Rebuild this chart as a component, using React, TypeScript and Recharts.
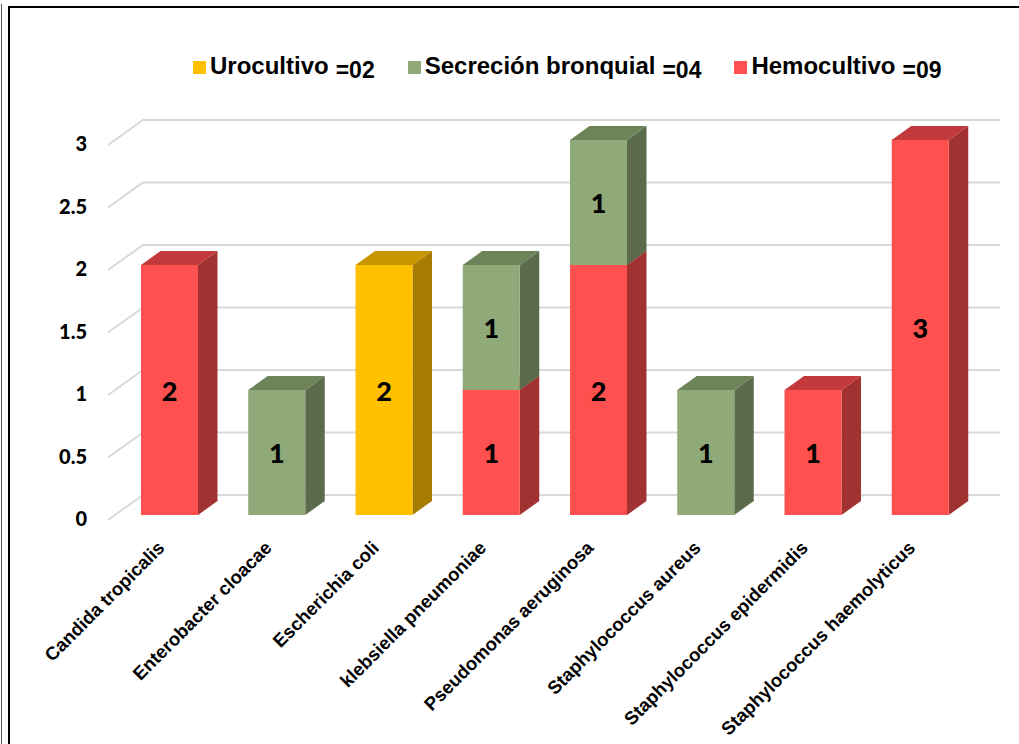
import React from 'react';
import { BarChart, Bar, XAxis, YAxis, CartesianGrid, Legend, LabelList } from 'recharts';

const categories = [
  'Candida tropicalis',
  'Enterobacter cloacae',
  'Escherichia coli',
  'klebsiella pneumoniae',
  'Pseudomonas aeruginosa',
  'Staphylococcus aureus',
  'Staphylococcus epidermidis',
  'Staphylococcus haemolyticus',
];
const hemocultivo = [2, 0, 0, 1, 2, 0, 1, 3];
const secrecion = [0, 1, 0, 1, 1, 1, 0, 0];
const urocultivo = [0, 0, 2, 0, 0, 0, 0, 0];
const yTicks = [0, 0.5, 1, 1.5, 2, 2.5, 3];

const seriesNames = { uro: 'Urocultivo', sec: 'Secreción bronquial', hemo: 'Hemocultivo' };
const legendOrder = [
  { key: 'uro', name: 'Urocultivo', total: '=02', color: '#FFC000' },
  { key: 'sec', name: 'Secreción bronquial', total: '=04', color: '#8FAA78' },
  { key: 'hemo', name: 'Hemocultivo', total: '=09', color: '#FF5050' },
];

const data = categories.map((name, i) => ({
  name,
  hemo: hemocultivo[i],
  sec: secrecion[i],
  uro: urocultivo[i],
}));

const DX = 19.5;
const DY = 14;

const make3D = (front: string, top: string, side: string) => (props: any) => {
  const { x, y, width, height } = props;
  if (!height || height <= 0) return <g />;
  return (
    <g>
      <path d={`M${x + width},${y} L${x + width + DX},${y - DY} L${x + width + DX},${y + height - DY} L${x + width},${y + height} Z`} fill={side} />
      <path d={`M${x},${y} L${x + DX},${y - DY} L${x + width + DX},${y - DY} L${x + width},${y} Z`} fill={top} />
      <rect x={x} y={y} width={width} height={height} fill={front} />
    </g>
  );
};

const valueLabel = (props: any) => {
  const { x, y, width, height, value } = props;
  if (!value) return null;
  return (
    <text
      x={x + width / 2}
      y={y + height / 2}
      textAnchor="middle"
      dominantBaseline="central"
      fontFamily="Lato, 'Open Sans', sans-serif"
      fontWeight={900}
      fontSize={27}
      fill="#000"
    >
      {value}
    </text>
  );
};

const gridLine = (props: any) => {
  const { x1, x2, y1 } = props;
  return (
    <path
      key={`g-${y1}`}
      d={`M${x1 - 8},${y1 + 5} L${x1 + 27},${y1 - 20} L${x2 + 26},${y1 - 20}`}
      stroke="#D9D9D9"
      strokeWidth={2}
      fill="none"
    />
  );
};

const YTick = (props: any) => {
  const { y, payload } = props;
  return (
    <text
      x={87}
      y={y + 3}
      textAnchor="end"
      dominantBaseline="central"
      fontFamily="Lato, 'Open Sans', sans-serif"
      fontWeight={900}
      fontSize={20}
      fill="#000"
    >
      {payload.value}
    </text>
  );
};

const XTick = (props: any) => {
  const { x, payload } = props;
  const tx = x - 4;
  const ty = 549;
  return (
    <text
      x={tx}
      y={ty}
      textAnchor="end"
      transform={`rotate(-45, ${tx}, ${ty})`}
      fontFamily="'Liberation Sans', Arial, sans-serif"
      fontWeight={700}
      fontSize={18.5}
      fill="#000"
    >
      {payload.value}
    </text>
  );
};

const renderLegend = () => (
  <div style={{ display: 'flex', alignItems: 'flex-start', fontFamily: "'Liberation Sans', Arial, sans-serif", fontWeight: 700, color: '#000', whiteSpace: 'nowrap' }}>
    {legendOrder.map((item, i) => (
      <div key={item.key} style={{ display: 'flex', alignItems: 'flex-start', marginLeft: i === 0 ? 0 : 33 }}>
        <div style={{ width: 13, height: 13, background: item.color, marginTop: 12, marginRight: 4 }} />
        <span style={{ fontSize: 24, lineHeight: '34px' }}>{item.name}</span>
        <span style={{ fontSize: 23, lineHeight: '34px', marginLeft: 7, position: 'relative', top: 4 }}>{item.total}</span>
      </div>
    ))}
  </div>
);

export default function App() {
  return (
    <div style={{ position: 'absolute', left: 0, top: 0, width: 1019, height: 744, background: '#fff', overflow: 'hidden' }}>
      <div style={{ position: 'absolute', left: 1, top: 4, width: 1, height: 740, background: '#555' }} />
      <div style={{ position: 'absolute', left: 8, top: 6, width: 2, height: 738, background: '#000' }} />
      <div style={{ position: 'absolute', left: 8, top: 6, width: 1011, height: 2, background: '#000' }} />
      <div style={{ position: 'absolute', left: 0, top: 0 }}>
        <BarChart
          width={1019}
          height={744}
          data={data}
          margin={{ top: 140, right: 45, bottom: 29, left: 0 }}
          barSize={57}
        >
          <CartesianGrid horizontal={gridLine} vertical={false} />
          <XAxis dataKey="name" axisLine={false} tickLine={false} interval={0} height={200} tick={<XTick />} />
          <YAxis width={116} domain={[0, 3]} ticks={yTicks} axisLine={false} tickLine={false} tick={<YTick />} />
          <Legend
            layout="horizontal"
            verticalAlign="middle"
            align="center"
            content={renderLegend}
            wrapperStyle={{ top: 49, left: 193, width: 'auto', height: 'auto' }}
          />
          <Bar dataKey="hemo" name={seriesNames.hemo} stackId="a" fill="#FF5050" isAnimationActive={false} shape={make3D('#FF5050', '#C23A3B', '#A23132')}>
            <LabelList dataKey="hemo" content={valueLabel} />
          </Bar>
          <Bar dataKey="sec" name={seriesNames.sec} stackId="a" fill="#8FAA78" isAnimationActive={false} shape={make3D('#8FAA78', '#6C8457', '#5C6B4B')}>
            <LabelList dataKey="sec" content={valueLabel} />
          </Bar>
          <Bar dataKey="uro" name={seriesNames.uro} stackId="a" fill="#FFC000" isAnimationActive={false} shape={make3D('#FFC000', '#C89700', '#A67D00')}>
            <LabelList dataKey="uro" content={valueLabel} />
          </Bar>
        </BarChart>
      </div>
    </div>
  );
}
